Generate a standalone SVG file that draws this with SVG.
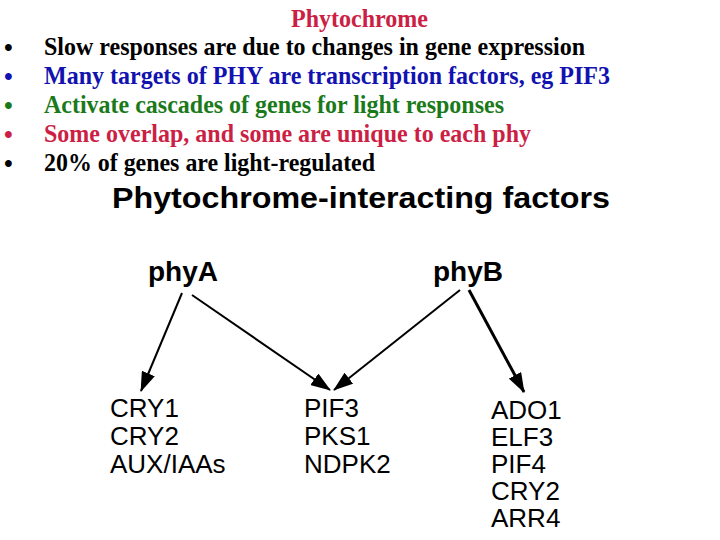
<svg xmlns="http://www.w3.org/2000/svg" width="720" height="540" viewBox="0 0 720 540">
<style>
.t{font-family:"Liberation Serif","Times New Roman",serif;font-weight:bold;font-size:25px}
.b{font-family:"Liberation Serif","Times New Roman",serif;font-weight:bold;font-size:25px}
.k{fill:#000}
.bl{fill:#1212b0}
.gr{fill:#1a7a1a}
.rd{fill:#cc1f45}
.h{font-family:"Liberation Sans",Arial,sans-serif;font-weight:bold;font-size:30px;fill:#000}
.n{font-family:"Liberation Sans",Arial,sans-serif;font-weight:bold;font-size:28px;fill:#000}
.g{font-family:"Liberation Sans",Arial,sans-serif;font-size:26px;fill:#000}
.c{stroke:#000;fill:none;stroke-width:2}
</style>
<defs>
<marker id="ah" markerUnits="userSpaceOnUse" markerWidth="20" markerHeight="14" refX="19" refY="7" orient="auto">
<path d="M0,0 L20,7 L0,14 z" fill="#000"/>
</marker>
</defs>
<rect width="720" height="540" fill="#fff"/>
<g id="title">
<text class="t rd" x="291" y="27" textLength="137" lengthAdjust="spacingAndGlyphs">Phytochrome</text>
</g>
<g id="bullets">
<text class="b k" x="4" y="56">•</text>
<text class="t k" x="44" y="55" textLength="541" lengthAdjust="spacingAndGlyphs">Slow responses are due to changes in gene expression</text>
<text class="b bl" x="4" y="85">•</text>
<text class="t bl" x="44" y="84" textLength="566" lengthAdjust="spacingAndGlyphs">Many targets of PHY are transcription factors, eg PIF3</text>
<text class="b gr" x="4" y="114">•</text>
<text class="t gr" x="44" y="113" textLength="460" lengthAdjust="spacingAndGlyphs">Activate cascades of genes for light responses</text>
<text class="b rd" x="4" y="143">•</text>
<text class="t rd" x="44" y="142" textLength="487" lengthAdjust="spacingAndGlyphs">Some overlap, and some are unique to each phy</text>
<text class="b k" x="4" y="172">•</text>
<text class="t k" x="44" y="171" textLength="331" lengthAdjust="spacingAndGlyphs">20% of genes are light-regulated</text>
</g>
<g id="heading">
<text class="h" x="112" y="208" textLength="498" lengthAdjust="spacingAndGlyphs">Phytochrome-interacting factors</text>
</g>
<g id="phyA"><text class="n" x="148" y="281">phyA</text></g>
<g id="phyB"><text class="n" x="433" y="281">phyB</text></g>
<g id="groupA">
<text class="g" x="110" y="417">CRY1</text>
<text class="g" x="110" y="445">CRY2</text>
<text class="g" x="110" y="473">AUX/IAAs</text>
</g>
<g id="groupAB">
<text class="g" x="304" y="417">PIF3</text>
<text class="g" x="304" y="445">PKS1</text>
<text class="g" x="304" y="473">NDPK2</text>
</g>
<g id="groupB">
<text class="g" x="491" y="419">ADO1</text>
<text class="g" x="491" y="446">ELF3</text>
<text class="g" x="491" y="473">PIF4</text>
<text class="g" x="491" y="500">CRY2</text>
<text class="g" x="491" y="527">ARR4</text>
</g>
<g id="connectors">
<line class="c" x1="182" y1="293" x2="141" y2="391" marker-end="url(#ah)"/>
<line class="c" x1="192" y1="295" x2="330" y2="390" marker-end="url(#ah)"/>
<line class="c" x1="460" y1="290" x2="334" y2="390" marker-end="url(#ah)"/>
<line class="c" x1="469" y1="290" x2="524" y2="392" marker-end="url(#ah)" style="stroke-width:3"/>
</g>
</svg>
